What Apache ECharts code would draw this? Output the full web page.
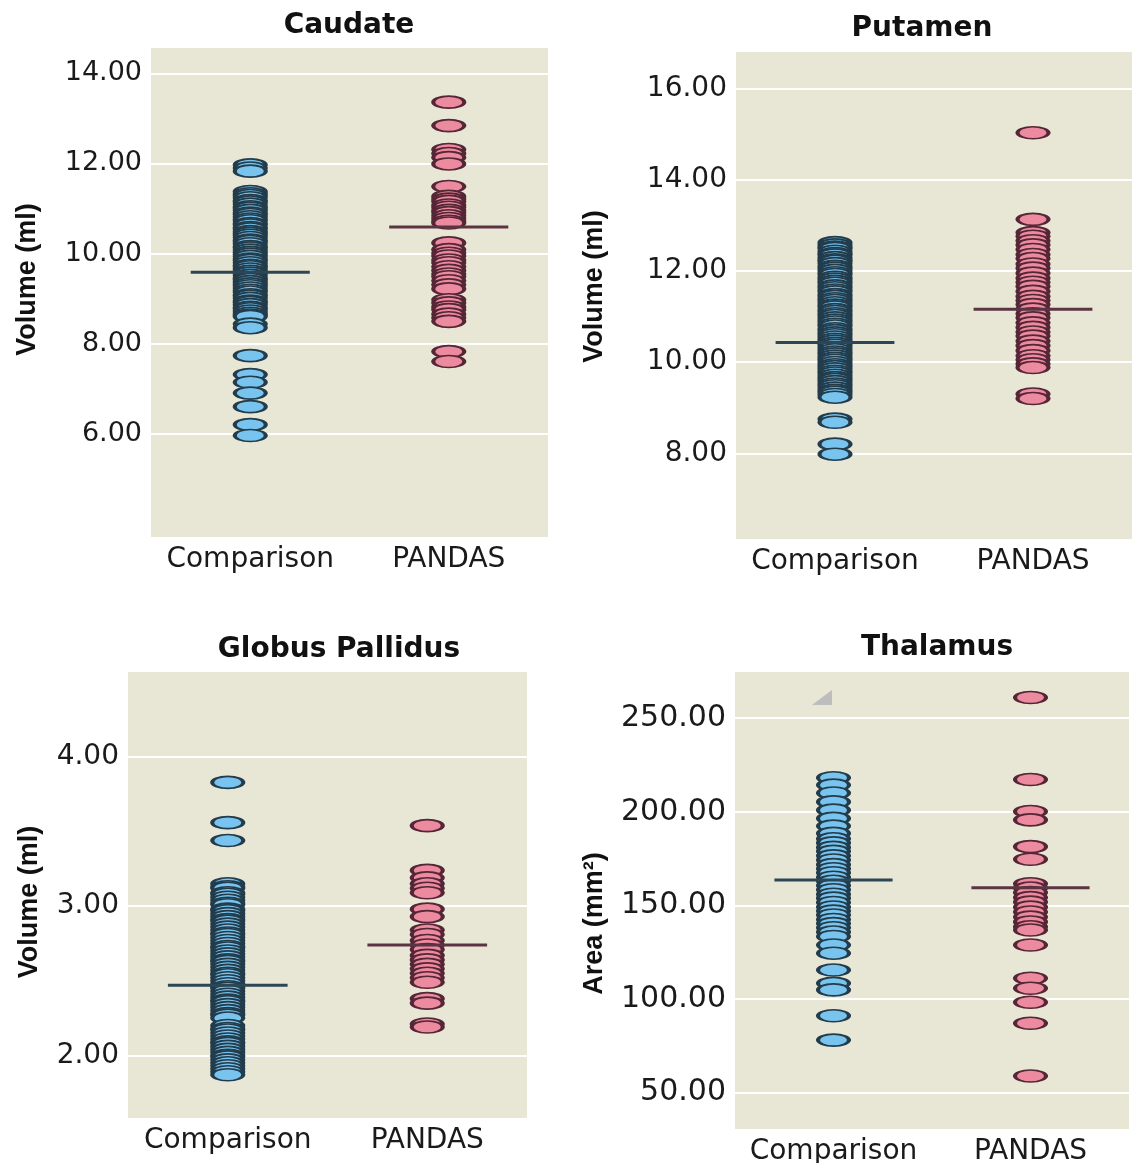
<!DOCTYPE html>
<html><head><meta charset="utf-8">
<script src="https://cdn.jsdelivr.net/npm/echarts@6/dist/echarts.min.js"></script>
<style>html,body{margin:0;padding:0;background:#fff}#c{width:1137px;height:1163px}</style>
</head><body><div id="c"></div>
<script>
// ---------------- DATA ----------------
const groups = ['Comparison', 'PANDAS'];

const caudateComparison = [11.97, 11.90, 11.83,
  11.38, 11.33, 11.29, 11.24, 11.18, 11.15, 11.10, 11.04, 11.01, 10.96, 10.90, 10.87, 10.82, 10.77, 10.73, 10.67,
  10.64, 10.58, 10.55, 10.49, 10.45, 10.41, 10.36, 10.30, 10.27, 10.22, 10.16, 10.13, 10.08, 10.03, 9.99, 9.94,
  9.88, 9.85, 9.80, 9.74, 9.71, 9.66, 9.61, 9.57, 9.52, 9.46, 9.43, 9.38, 9.33, 9.29, 9.24, 9.19, 9.15, 9.09,
  9.06, 9.01, 8.95, 8.92, 8.87, 8.81, 8.78, 8.73, 8.68, 8.64, 8.61,
  8.44, 8.36, 7.74, 7.32, 7.15, 6.91, 6.61, 6.21, 5.97];
const caudatePANDAS = [13.36, 12.84, 12.31, 12.22, 12.13, 11.99, 11.49, 11.27, 11.21, 11.16, 11.08, 11.03, 10.96,
  10.91, 10.84, 10.78, 10.72, 10.68, 10.24, 10.09, 10.01, 9.95, 9.86, 9.80, 9.71, 9.63, 9.55, 9.49, 9.40, 9.31,
  9.22, 8.98, 8.91, 8.82, 8.76, 8.66, 8.58, 8.50, 7.83, 7.61];
const caudateMeans = [9.59, 10.59];
const caudateTicks = [6, 8, 10, 12, 14];

const putamenComparison = [12.62, 12.57, 12.52, 12.49, 12.43, 12.38, 12.35, 12.29, 12.24, 12.21, 12.16, 12.10,
  12.06, 12.01, 11.96, 11.92, 11.86, 11.82, 11.77, 11.73, 11.67, 11.63, 11.58, 11.54, 11.48, 11.44, 11.39, 11.35,
  11.30, 11.25, 11.21, 11.15, 11.11, 11.06, 11.02, 10.97, 10.92, 10.88, 10.83, 10.79, 10.73, 10.69, 10.64, 10.60,
  10.55, 10.50, 10.46, 10.41, 10.37, 10.32, 10.27, 10.22, 10.18, 10.13, 10.08, 10.04, 9.99, 9.94, 9.90, 9.85,
  9.80, 9.76, 9.71, 9.66, 9.62, 9.57, 9.52, 9.48, 9.43, 9.38, 9.34, 9.29, 9.23, 8.75, 8.68, 8.20, 7.98];
const putamenPANDAS = [15.03, 13.13, 12.84, 12.76, 12.66, 12.57, 12.47, 12.36, 12.27, 12.15, 12.06, 11.95, 11.84,
  11.75, 11.66, 11.55, 11.44, 11.35, 11.26, 11.16, 11.06, 10.97, 10.86, 10.76, 10.66, 10.57, 10.46, 10.36, 10.25,
  10.14, 10.05, 9.96, 9.88, 9.30, 9.20];
const putamenMeans = [10.43, 11.16];
const putamenTicks = [8, 10, 12, 14, 16];

const globusComparison = [3.83, 3.56, 3.44,
  3.15, 3.13, 3.12, 3.09, 3.08, 3.06, 3.04, 3.02, 3.01, 2.98, 2.97, 2.95, 2.93, 2.91, 2.90, 2.88, 2.86, 2.84, 2.82,
  2.81, 2.79, 2.77, 2.75, 2.73, 2.72, 2.70, 2.68, 2.66, 2.64, 2.63, 2.61, 2.59, 2.57, 2.55, 2.54, 2.52, 2.50, 2.48,
  2.46, 2.45, 2.43, 2.41, 2.39, 2.37, 2.36, 2.34, 2.32, 2.30, 2.28, 2.27, 2.25,
  2.20, 2.18, 2.17, 2.15, 2.13, 2.11, 2.09, 2.08, 2.06, 2.04, 2.02, 2.00, 1.99, 1.97, 1.95, 1.93, 1.91, 1.89, 1.87];
const globusPANDAS = [3.54, 3.24, 3.19, 3.15, 3.12, 3.09, 2.98, 2.93, 2.84, 2.81, 2.77, 2.74, 2.71, 2.67, 2.64,
  2.61, 2.58, 2.55, 2.52, 2.49, 2.38, 2.35, 2.21, 2.19];
const globusMeans = [2.47, 2.74];
const globusTicks = [2, 3, 4];

const thalamusComparison = [218.2, 214.3, 210.1, 205.3, 200.9, 196.5, 192.4, 188.5,
  185.6, 183.4, 181.0, 178.9, 176.5, 174.3, 171.8, 169.6, 167.5, 165.1, 162.9, 160.6, 158.4, 156.0, 153.9, 151.6,
  149.2, 147.0, 144.9, 142.5, 140.3, 138.1, 135.8, 133.4,
  128.9, 124.5, 115.5, 108.4, 104.9, 91.1, 78.1];
const thalamusPANDAS = [261.1, 217.3, 200.2, 195.7, 181.4, 174.7, 161.6, 159.3, 156.9, 154.2, 151.8, 149.1, 146.5,
  143.8, 141.2, 138.6, 136.9, 128.9, 111.1, 105.8, 98.3, 87.1, 58.9];
const thalamusMeans = [163.6, 159.4];
const thalamusTicks = [50, 100, 150, 200, 250];

// ---------------- STYLE / LAYOUT ----------------
const ELLIPSE = 'path://M0,1 C0,0.4477 0.4477,0 1,0 C1.5523,0 2,0.4477 2,1 C2,1.5523 1.5523,2 1,2 C0.4477,2 0,1.5523 0,1 Z';
const fills = ['#79c4ee', '#ec8aa0'];
const strokes = ['#223c4c', '#552636'];
const meanColors = ['#2c4656', '#5a3442'];
const bg = '#e8e6d4';

const panels = [
  {title: 'Caudate', yName: 'Volume (ml)', comp: caudateComparison, pand: caudatePANDAS, means: caudateMeans,
   ticks: caudateTicks, min: 3.72, max: 14.56, grid: {left: 151, top: 48, width: 397, height: 489},
   tx: 349, ty: 12, nameGap: 110, ls: 27, namePad: [0, 0, 0, 26]},
  {title: 'Putamen', yName: 'Volume (ml)', comp: putamenComparison, pand: putamenPANDAS, means: putamenMeans,
   ticks: putamenTicks, min: 6.12, max: 16.80, grid: {left: 736, top: 52, width: 396, height: 487},
   tx: 922, ty: 15, nameGap: 128, ls: 28, namePad: [0, 0, 0, 18]},
  {title: 'Globus Pallidus', yName: 'Volume (ml)', comp: globusComparison, pand: globusPANDAS, means: globusMeans,
   ticks: globusTicks, min: 1.58, max: 4.57, grid: {left: 128, top: 672, width: 399, height: 446},
   tx: 339, ty: 636, nameGap: 85, ls: 28, namePad: [0, 14, 0, 0]},
  {title: 'Thalamus', yName: 'Area (mm²)', comp: thalamusComparison, pand: thalamusPANDAS, means: thalamusMeans,
   ticks: thalamusTicks, min: 30.6, max: 274.7, grid: {left: 735, top: 672, width: 394, height: 457},
   tx: 937, ty: 634, nameGap: 127, ls: 30, namePad: [0, 46, 0, 0]}
];

function meanRender(params, api) {
  const cat = api.value(0), v = api.value(1);
  const p = api.coord([cat, v]);
  const bw = api.size([1, 0])[0];
  const half = bw * 0.3;
  return {type: 'line', shape: {x1: p[0] - half, y1: p[1], x2: p[0] + half, y2: p[1]},
          style: {stroke: meanColors[cat], lineWidth: 3}};
}

const option = {
  animation: false,
  backgroundColor: '#ffffff',
  title: [], grid: [], xAxis: [], yAxis: [], series: [],
  graphic: [{type: 'polygon', shape: {points: [[812, 705], [832, 705], [832, 690]]}, style: {fill: '#bdbdbd'}, z: 10}]
};

panels.forEach((pn, i) => {
  option.title.push({text: pn.title, left: pn.tx, top: pn.ty, textAlign: 'center', padding: 0,
    textStyle: {fontFamily: 'DejaVu Sans', fontWeight: 'bold', fontSize: 28, color: '#111'}});
  option.grid.push(Object.assign({show: true, backgroundColor: bg, borderWidth: 0, containLabel: false,
    outerBoundsMode: 'none'}, pn.grid));
  option.xAxis.push({type: 'category', gridIndex: i, data: groups, boundaryGap: true,
    axisLine: {show: false}, axisTick: {show: false}, splitLine: {show: false},
    axisLabel: {fontFamily: 'DejaVu Sans', fontSize: 28, color: '#1a1a1a', margin: 9, interval: 0}});
  option.yAxis.push({type: 'value', gridIndex: i, min: pn.min, max: pn.max,
    axisLine: {show: false}, axisTick: {show: false, customValues: pn.ticks},
    axisLabel: {customValues: pn.ticks, formatter: v => Number(v).toFixed(2), fontFamily: 'DejaVu Sans',
      fontSize: pn.ls, color: '#1a1a1a', margin: 9},
    splitLine: {show: true, lineStyle: {color: '#ffffff', width: 2}},
    name: pn.yName, nameLocation: 'middle', nameGap: pn.nameGap,
    nameTextStyle: {fontFamily: 'Liberation Sans', fontWeight: 'bold', fontSize: 27, color: '#111', padding: pn.namePad}});
  [pn.comp, pn.pand].forEach((arr, g) => {
    option.series.push({type: 'scatter', xAxisIndex: i, yAxisIndex: i, symbol: ELLIPSE, symbolSize: [31, 12],
      itemStyle: {color: fills[g], borderColor: strokes[g], borderWidth: 2.6, opacity: 1},
      emphasis: {disabled: true}, z: 3,
      data: arr.map(v => [g, v])});
  });
  option.series.push({type: 'custom', xAxisIndex: i, yAxisIndex: i, renderItem: meanRender, z: 5,
    data: pn.means.map((m, g) => [g, m])});
});

const chart = echarts.init(document.getElementById('c'), null, {renderer: 'canvas'});
chart.setOption(option);
</script>
</body></html>
